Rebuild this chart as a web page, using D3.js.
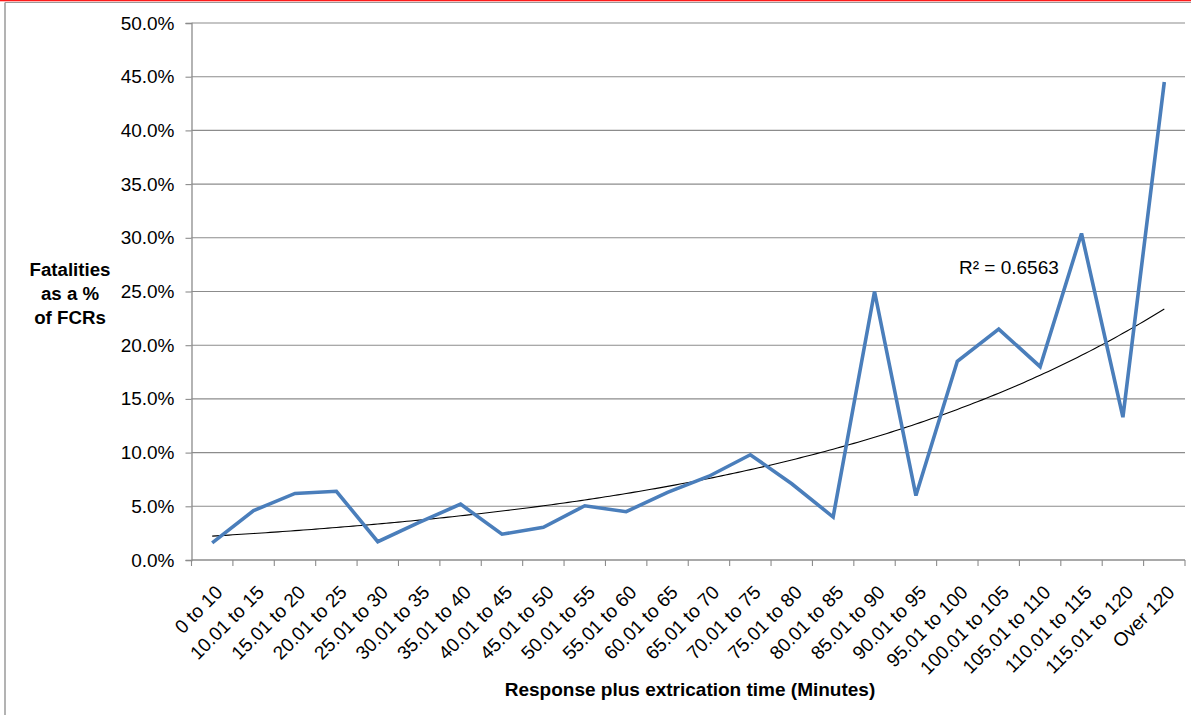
<!DOCTYPE html>
<html>
<head>
<meta charset="utf-8">
<script src="https://cdn.jsdelivr.net/npm/d3@7"></script>
<style>
  html, body { margin: 0; padding: 0; background: #fff; }
  svg { display: block; font-family: "Liberation Sans", Arial, sans-serif; }
</style>
</head>
<body>
<svg id="chart" width="1191" height="715"></svg>
<script>
// Response-plus-extrication time bands
const categories = [
  "0 to 10", "10.01 to 15", "15.01 to 20", "20.01 to 25", "25.01 to 30",
  "30.01 to 35", "35.01 to 40", "40.01 to 45", "45.01 to 50", "50.01 to 55",
  "55.01 to 60", "60.01 to 65", "65.01 to 70", "70.01 to 75", "75.01 to 80",
  "80.01 to 85", "85.01 to 90", "90.01 to 95", "95.01 to 100", "100.01 to 105",
  "105.01 to 110", "110.01 to 115", "115.01 to 120", "Over 120"
];

// Fatalities as a share of FCRs for each band
const fatalityRate = [
  0.016, 0.046, 0.062, 0.064, 0.017, 0.035, 0.052, 0.024, 0.0305, 0.0505,
  0.045, 0.063, 0.078, 0.098, 0.071, 0.040, 0.250, 0.060, 0.185, 0.215,
  0.180, 0.304, 0.133, 0.445
];

const yTicks = [0, 0.05, 0.10, 0.15, 0.20, 0.25, 0.30, 0.35, 0.40, 0.45, 0.50];
const rSquaredLabel = "R\u00B2 = 0.6563";

const svg = d3.select("#chart");
const W = 1191, H = 715;

// Outer frame
svg.append("rect").attr("x", 0).attr("y", 0).attr("width", W).attr("height", 1.3).attr("fill", "#ff1a1a");
svg.append("line").attr("x1", 5).attr("x2", W).attr("y1", 2.5).attr("y2", 2.5)
  .attr("stroke", "#9a9a9a").attr("stroke-width", 1.2);
svg.append("line").attr("x1", 5).attr("x2", 5).attr("y1", 2.5).attr("y2", H)
  .attr("stroke", "#9a9a9a").attr("stroke-width", 1.5);

const plot = { left: 191.5, right: 1185, top: 23, bottom: 560 };

const x = d3.scaleBand().domain(categories).range([plot.left, plot.right]).padding(0);
const y = d3.scaleLinear().domain([0, 0.5]).range([plot.bottom, plot.top]);

// Horizontal gridlines
svg.append("g")
  .selectAll("line")
  .data(yTicks.slice(1))
  .join("line")
  .attr("x1", plot.left).attr("x2", plot.right)
  .attr("y1", d => y(d)).attr("y2", d => y(d))
  .attr("stroke", "#8c8c8c").attr("stroke-width", 1.1);

// Y axis
const yAxis = svg.append("g")
  .attr("transform", `translate(${plot.left},0)`)
  .call(d3.axisLeft(y).tickValues(yTicks).tickFormat(d3.format(".1%")).tickSizeOuter(0).tickSize(6).tickPadding(11));
yAxis.select(".domain").attr("stroke", "#8c8c8c").attr("stroke-width", 1.3);
yAxis.selectAll(".tick line").attr("stroke", "#8c8c8c").attr("stroke-width", 1.1);
yAxis.selectAll(".tick text")
  .attr("font-size", "19px").attr("fill", "#000")
  .attr("font-family", "'Liberation Sans', Arial, sans-serif");

// X axis line and ticks at band boundaries
const bounds = categories.map(c => x(c)).concat([plot.right]);
svg.append("line")
  .attr("x1", plot.left).attr("x2", plot.right)
  .attr("y1", plot.bottom).attr("y2", plot.bottom)
  .attr("stroke", "#8c8c8c").attr("stroke-width", 1.3);
svg.append("g")
  .selectAll("line")
  .data(bounds)
  .join("line")
  .attr("x1", d => d).attr("x2", d => d)
  .attr("y1", plot.bottom).attr("y2", plot.bottom + 6)
  .attr("stroke", "#8c8c8c").attr("stroke-width", 1.1);

// Rotated category labels
svg.append("g")
  .selectAll("text")
  .data(categories)
  .join("text")
  .attr("transform", d => `translate(${x(d) + x.bandwidth() / 2 + 2},${plot.bottom + 24}) rotate(-45)`)
  .attr("text-anchor", "end")
  .attr("dy", "0.71em")
  .attr("font-size", "19px")
  .attr("fill", "#000")
  .text(d => d);

const cx = d => x(d) + x.bandwidth() / 2;

// Exponential trendline fitted by least squares on ln(rate)
const n = fatalityRate.length;
const xs = d3.range(1, n + 1);
const lns = fatalityRate.map(v => Math.log(v));
const mx = d3.mean(xs), my = d3.mean(lns);
const b = d3.sum(xs, (xi, i) => (xi - mx) * (lns[i] - my)) / d3.sum(xs, xi => (xi - mx) ** 2);
const a = Math.exp(my - b * mx);
const idxToPx = d3.scaleLinear().domain([1, n]).range([cx(categories[0]), cx(categories[n - 1])]);
const trend = d3.range(1, n + 0.001, 0.1).map(t => [idxToPx(t), y(a * Math.exp(b * t))]);
svg.append("path")
  .attr("d", d3.line()(trend))
  .attr("fill", "none")
  .attr("stroke", "#000")
  .attr("stroke-width", 1.1);

// Data series
svg.append("path")
  .datum(fatalityRate)
  .attr("d", d3.line().x((d, i) => cx(categories[i])).y(d => y(d)))
  .attr("fill", "none")
  .attr("stroke", "#4a7ebb")
  .attr("stroke-width", 3.6)
  .attr("stroke-linejoin", "miter")
  .attr("stroke-miterlimit", 3);

// Trendline label
svg.append("text")
  .attr("x", 959).attr("y", 274)
  .attr("font-size", "19px").attr("fill", "#000")
  .text(rSquaredLabel);

// Axis titles
const yTitle = svg.append("text")
  .attr("text-anchor", "middle")
  .attr("font-size", "18.7px")
  .attr("font-weight", "bold")
  .attr("fill", "#000");
["Fatalities", "as a %", "of FCRs"].forEach((t, i) => {
  yTitle.append("tspan").attr("x", 70).attr("y", 276 + i * 24).text(t);
});

svg.append("text")
  .attr("x", 690).attr("y", 696)
  .attr("text-anchor", "middle")
  .attr("font-size", "19px")
  .attr("font-weight", "bold")
  .attr("fill", "#000")
  .text("Response plus extrication time (Minutes)");
</script>
</body>
</html>
